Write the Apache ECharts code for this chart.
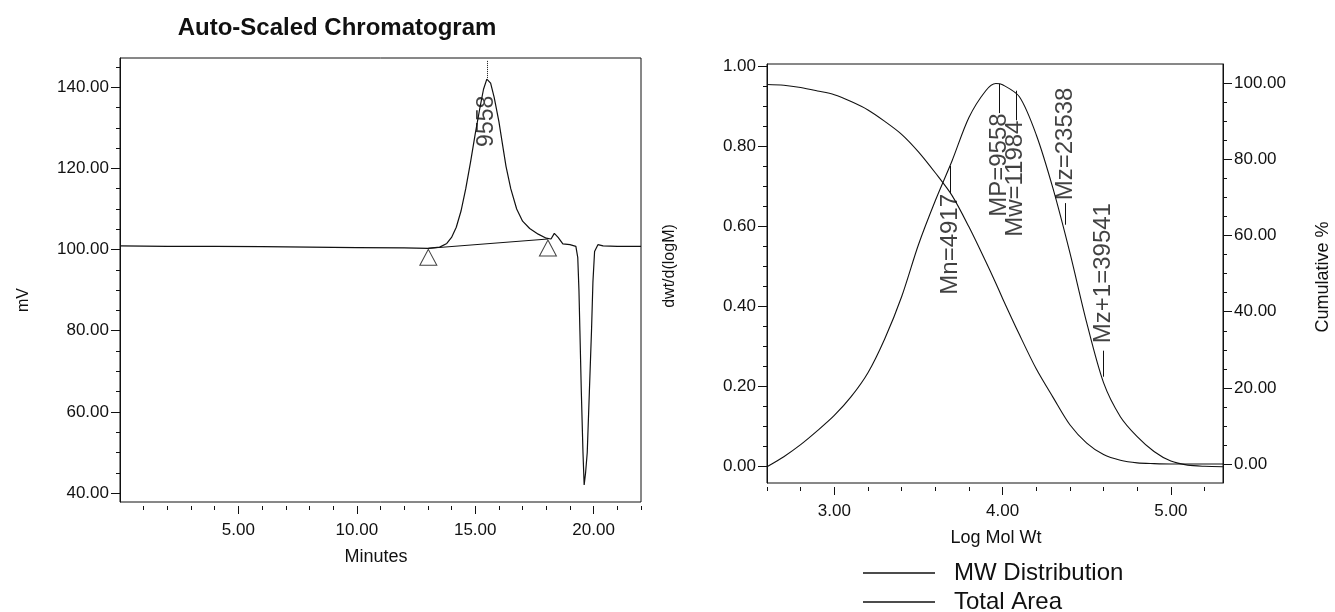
<!DOCTYPE html>
<html>
<head>
<meta charset="utf-8">
<script src="https://cdn.jsdelivr.net/npm/echarts@6/dist/echarts.min.js"></script>
<style>
  html, body { margin: 0; padding: 0; background: #fff; }
  #chart { width: 1335px; height: 612px; }
</style>
</head>
<body>
<div id="chart"></div>
<script>
// chromatogram (minutes / mV)
const chromTime = [0, 2, 4, 6, 8, 10, 12, 13, 13.5, 13.8, 14.0, 14.2, 14.4, 14.6, 14.8, 15.0, 15.2, 15.35, 15.49, 15.65,
  15.8, 16.0, 16.15, 16.3, 16.5, 16.75, 17.0, 17.3, 17.66, 18.0, 18.2, 18.34, 18.5, 18.7, 19.0, 19.25, 19.33, 19.38,
  19.42, 19.48, 19.55, 19.6, 19.66, 19.73, 19.82, 19.91, 19.97, 20.04, 20.18, 20.4, 21, 22];
const chromMv = [100.9, 100.8, 100.8, 100.7, 100.6, 100.5, 100.4, 100.3, 100.6, 101.5, 103.0, 105.5, 109.5, 115.0, 121.5,
  128.5, 135.0, 139.5, 142.0, 141.0, 137.5, 131.5, 126.0, 120.5, 115.0, 110.0, 107.0, 105.2, 103.8, 102.8, 102.6, 104.0,
  103.0, 101.4, 101.2, 100.8, 98.0, 90.0, 80.0, 65.0, 50.0, 42.0, 45.0, 50.0, 65.0, 80.0, 92.0, 99.5, 101.2, 100.9,
  100.8, 100.8];
const baseTime = [13.02, 18.07];
const baseMv = [100.3, 102.6];
const peakTime = 15.49;
const peakMv = 142.3;
const peakName = '9558';

const chromXTicks = [5, 10, 15, 20];
const chromXMinor = [1, 2, 3, 4, 6, 7, 8, 9, 11, 12, 13, 14, 16, 17, 18, 19, 21, 22];
const chromYTicks = [40, 60, 80, 100, 120, 140];
const chromYMinor = [45, 50, 55, 65, 70, 75, 85, 90, 95, 105, 110, 115, 125, 130, 135, 145];

// molecular weight distribution
const mwLogM = [2.60, 2.70, 2.80, 2.90, 3.00, 3.10, 3.20, 3.30, 3.40, 3.50, 3.60, 3.70, 3.80, 3.90, 3.96, 4.00, 4.10,
  4.20, 4.30, 4.40, 4.50, 4.60, 4.70, 4.80, 4.90, 5.00, 5.10, 5.20, 5.31];
const mwDist = [0.0, 0.025, 0.055, 0.09, 0.128, 0.175, 0.235, 0.32, 0.425, 0.555, 0.665, 0.765, 0.873, 0.94, 0.958,
  0.955, 0.925, 0.83, 0.695, 0.535, 0.36, 0.21, 0.125, 0.075, 0.038, 0.014, 0.004, 0.001, 0.0];
const cumArea = [99.7, 99.5, 98.9, 98.0, 97.0, 95.2, 93.0, 90.0, 86.6, 82.0, 76.5, 70.5, 62.3, 53.2, 47.5, 43.5, 34.0,
  25.0, 17.5, 10.3, 5.5, 2.5, 1.0, 0.3, 0.1, 0.0, 0.0, 0.0, 0.0];
const mwNames = ['Mn', 'MP', 'Mw', 'Mz', 'Mz+1'];
const mwValues = [4917, 9558, 11984, 23538, 39541];

const mwXTicks = [3, 4, 5];
const mwXMinor = [2.6, 2.8, 3.2, 3.4, 3.6, 3.8, 4.2, 4.4, 4.6, 4.8, 5.2];
const distTicks = [0, 0.2, 0.4, 0.6, 0.8, 1.0];
const distMinor = [0.05, 0.1, 0.15, 0.25, 0.3, 0.35, 0.45, 0.5, 0.55, 0.65, 0.7, 0.75, 0.85, 0.9, 0.95];
const cumTicks = [0, 20, 40, 60, 80, 100];
const cumMinor = [5, 10, 15, 25, 30, 35, 45, 50, 55, 65, 70, 75, 85, 90, 95];

const FONT = "'Liberation Sans', Arial, sans-serif";
const INK = '#111';

// where each marker's line and rotated label sit (dwt/d(logM) units)
const markerLayout = [
  {lineFrom: 0.752, lineTo: 0.683, labelAt: 0.556},
  {lineFrom: 0.957, lineTo: 0.884, labelAt: 0.754},
  {lineFrom: 0.940, lineTo: 0.866, labelAt: 0.720},
  {lineFrom: 0.605, lineTo: 0.659, labelAt: 0.807},
  {lineFrom: 0.225, lineTo: 0.290, labelAt: 0.484}
];

function zip(a, b){
  return a.map(function(v, i){ return [v, b[i]]; });
}

function majorX(grid, min, max, ticks){
  return {
    type: 'value', gridIndex: grid, min: min, max: max, offset: 4, position: 'bottom',
    axisLine: {show: false, onZero: false},
    axisTick: {show: true, customValues: ticks, length: 8, lineStyle: {color: INK}},
    axisLabel: {customValues: ticks, formatter: function(v){ return v.toFixed(2); },
      fontSize: 17, fontFamily: FONT, color: INK, margin: 16},
    splitLine: {show: false}
  };
}
function minorX(grid, min, max, ticks){
  return {
    type: 'value', gridIndex: grid, min: min, max: max, offset: 4, position: 'bottom',
    axisLine: {show: false, onZero: false},
    axisTick: {show: true, customValues: ticks, length: 4, lineStyle: {color: INK}},
    axisLabel: {show: false},
    splitLine: {show: false}
  };
}
function majorY(grid, min, max, ticks, pos){
  return {
    type: 'value', gridIndex: grid, min: min, max: max, position: pos,
    axisLine: {show: true, onZero: false, lineStyle: {color: INK}},
    axisTick: {show: true, customValues: ticks, length: 9, lineStyle: {color: INK}},
    axisLabel: {customValues: ticks, formatter: function(v){ return v.toFixed(2); },
      fontSize: 17, fontFamily: FONT, color: INK, margin: 11},
    splitLine: {show: false}
  };
}
function minorY(grid, min, max, ticks, pos){
  return {
    type: 'value', gridIndex: grid, min: min, max: max, position: pos,
    axisLine: {show: false, onZero: false},
    axisTick: {show: true, customValues: ticks, length: 4, lineStyle: {color: INK}},
    axisLabel: {show: false},
    splitLine: {show: false}
  };
}
function legendItem(name, top){
  return {
    orient: 'vertical', left: 863, top: top, padding: 0,
    itemWidth: 72, itemHeight: 1.5, icon: 'rect',
    data: [name],
    textStyle: {fontSize: 24, fontFamily: FONT, color: INK, padding: [0, 0, 0, 14]}
  };
}

const markerX = mwValues.map(function(v){ return Math.log10(v); });

const option = {
  backgroundColor: '#fff',
  animation: false,
  title: {
    text: 'Auto-Scaled Chromatogram',
    left: 332, top: 11, textAlign: 'center',
    textStyle: {fontSize: 24, fontWeight: 'bold', fontFamily: FONT, color: INK}
  },
  legend: [legendItem('MW Distribution', 561), legendItem('Total Area', 590)],
  grid: [
    {left: 120, top: 58, width: 521, height: 444, show: true, borderColor: INK, borderWidth: 1},
    {left: 767, top: 64, width: 456, height: 419, show: true, borderColor: INK, borderWidth: 1}
  ],
  xAxis: [
    majorX(0, 0, 22, chromXTicks),
    minorX(0, 0, 22, chromXMinor),
    majorX(1, 2.6, 5.31, mwXTicks),
    minorX(1, 2.6, 5.31, mwXMinor)
  ],
  yAxis: [
    majorY(0, 37.8, 147.2, chromYTicks, 'left'),
    minorY(0, 37.8, 147.2, chromYMinor, 'left'),
    majorY(1, -0.0408, 1.0068, distTicks, 'left'),
    minorY(1, -0.0408, 1.0068, distMinor, 'left'),
    majorY(1, -4.99, 105.07, cumTicks, 'right'),
    minorY(1, -4.99, 105.07, cumMinor, 'right')
  ],
  graphic: [
    {type: 'text', x: 24, y: 300, rotation: Math.PI / 2,
      style: {text: 'mV', font: '16px ' + FONT, fill: INK, align: 'center', verticalAlign: 'middle'}},
    {type: 'text', x: 376, y: 557,
      style: {text: 'Minutes', font: '18px ' + FONT, fill: INK, align: 'center', verticalAlign: 'middle'}},
    {type: 'text', x: 670, y: 266, rotation: Math.PI / 2,
      style: {text: 'dwt/d(logM)', font: '16px ' + FONT, fill: INK, align: 'center', verticalAlign: 'middle'}},
    {type: 'text', x: 996, y: 538,
      style: {text: 'Log Mol Wt', font: '18px ' + FONT, fill: INK, align: 'center', verticalAlign: 'middle'}},
    {type: 'text', x: 1323, y: 277, rotation: Math.PI / 2,
      style: {text: 'Cumulative %', font: '18px ' + FONT, fill: INK, align: 'center', verticalAlign: 'middle'}}
  ],
  series: [
    {
      type: 'line', xAxisIndex: 0, yAxisIndex: 0,
      data: zip(chromTime, chromMv),
      symbol: 'none', color: INK, lineStyle: {color: INK, width: 1.2},
      markLine: {
        silent: true, symbol: 'none', label: {show: false},
        lineStyle: {color: INK, type: 'dotted', width: 1},
        data: [[{coord: [peakTime, peakMv]}, {coord: [peakTime, 146.5]}]]
      }
    },
    {
      type: 'line', xAxisIndex: 0, yAxisIndex: 0,
      data: zip(baseTime, baseMv),
      symbol: 'none', lineStyle: {color: INK, width: 1}
    },
    {
      type: 'scatter', xAxisIndex: 0, yAxisIndex: 0,
      data: zip(baseTime, baseMv),
      symbol: 'triangle', symbolSize: [17, 16], symbolOffset: [0, 9],
      itemStyle: {color: '#fff', borderColor: INK, borderWidth: 1}, z: 3
    },
    {
      type: 'scatter', xAxisIndex: 0, yAxisIndex: 0,
      data: [[peakTime, 131.6, peakName]],
      symbolSize: 1, itemStyle: {color: 'transparent'},
      label: {show: true, position: 'inside', rotate: 90, formatter: function(p){ return p.data[2]; },
        fontSize: 23, fontFamily: FONT, color: INK}
    },
    {
      name: 'MW Distribution',
      type: 'line', xAxisIndex: 2, yAxisIndex: 2,
      data: zip(mwLogM, mwDist),
      symbol: 'none', smooth: 0.3, color: INK, lineStyle: {color: INK, width: 1.1},
      markLine: {
        silent: true, symbol: 'none', label: {show: false},
        lineStyle: {color: INK, type: 'solid', width: 1},
        data: markerX.map(function(x, i){
          return [{coord: [x, markerLayout[i].lineFrom]}, {coord: [x, markerLayout[i].lineTo]}];
        })
      }
    },
    {
      name: 'Total Area',
      type: 'line', xAxisIndex: 2, yAxisIndex: 4,
      data: zip(mwLogM, cumArea),
      symbol: 'none', smooth: 0.3, color: INK, lineStyle: {color: INK, width: 1.1}
    },
    {
      type: 'scatter', xAxisIndex: 2, yAxisIndex: 2,
      data: markerX.map(function(x, i){
        return [x, markerLayout[i].labelAt, mwNames[i] + '=' + mwValues[i]];
      }),
      symbolSize: 1, itemStyle: {color: 'transparent'},
      label: {show: true, position: 'inside', rotate: 90, formatter: function(p){ return p.data[2]; },
        fontSize: 24, fontFamily: FONT, color: INK}
    }
  ]
};

const myChart = echarts.init(document.getElementById('chart'));
myChart.setOption(option);
</script>
</body>
</html>
